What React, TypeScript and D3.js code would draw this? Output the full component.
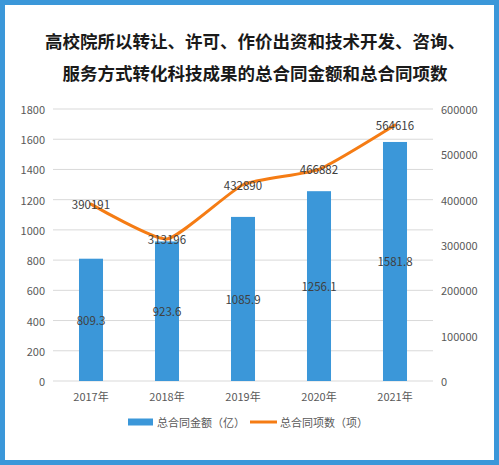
import React from "react";
import * as d3 from "d3";

const categories = ["2017年", "2018年", "2019年", "2020年", "2021年"];
const amountValues = [809.3, 923.6, 1085.9, 1256.1, 1581.8];
const countValues = [390191, 313196, 432890, 466882, 564616];
const leftTicks = [0, 200, 400, 600, 800, 1000, 1200, 1400, 1600, 1800];
const rightTicks = [0, 100000, 200000, 300000, 400000, 500000, 600000];
const titleLines = [
  "高校院所以转让、许可、作价出资和技术开发、咨询、",
  "服务方式转化科技成果的总合同金额和总合同项数",
];
const seriesNames = ["总合同金额（亿）", "总合同项数（项）"];

const W = 499;
const H = 465;
const BLUE = "#3b97d9";
const ORANGE = "#f57c14";
const TEXT = "#595959";
const LABEL = "#404040";
const FONT = "'Noto Sans CJK SC', 'Noto Sans', sans-serif";

export default function App() {
  const x0 = 53, x1 = 433, yTop = 109, yBot = 381;
  const x = d3.scaleBand<string>().domain(categories).range([x0, x1]).paddingInner(0.684).paddingOuter(0.342);
  const yL = d3.scaleLinear().domain([0, 1800]).range([yBot, yTop]);
  const yR = d3.scaleLinear().domain([0, 600000]).range([yBot, yTop]);
  const cx = (c: string) => (x(c) as number) + x.bandwidth() / 2;
  const line = d3
    .line<number>()
    .x((_, i) => cx(categories[i]))
    .y((d) => yR(d))
    .curve(d3.curveCardinal.tension(0.5));

  return (
    <svg width={W} height={H} style={{ position: "absolute", left: 0, top: 0, fontFamily: FONT }}>
      <rect x={0} y={0} width={W} height={H} fill={BLUE} />
      <rect x={5} y={5} width={489} height={455} fill="#ffffff" />
      {titleLines.map((t, i) => (
        <text key={i} x={255} y={40 + i * 32} textAnchor="middle" dominantBaseline="central" fontSize={17.5} fontWeight="bold" fill="#1a1a1a">
          {t}
        </text>
      ))}
      {leftTicks.map((t) => (
        <g key={"l" + t}>
          <line x1={x0} x2={x1} y1={yL(t)} y2={yL(t)} stroke="#d9d9d9" strokeWidth={1} />
          <text x={45} y={yL(t)} textAnchor="end" dominantBaseline="central" fontSize={11} fill={TEXT}>
            {t}
          </text>
        </g>
      ))}
      {rightTicks.map((t) => (
        <text key={"r" + t} x={441} y={yR(t)} textAnchor="start" dominantBaseline="central" fontSize={11} fill={TEXT}>
          {t}
        </text>
      ))}
      {categories.map((c, i) => (
        <g key={c}>
          <rect x={x(c)} y={yL(amountValues[i])} width={x.bandwidth()} height={yBot - yL(amountValues[i])} fill={BLUE} />
          <text x={cx(c)} y={396} textAnchor="middle" dominantBaseline="central" fontSize={11} fill={TEXT}>
            {c}
          </text>
        </g>
      ))}
      <path d={line(countValues) || ""} fill="none" stroke={ORANGE} strokeWidth={3} strokeLinecap="round" />
      {categories.map((c, i) => (
        <text key={"bl" + c} x={cx(c)} y={(yL(amountValues[i]) + yBot) / 2} textAnchor="middle" dominantBaseline="central" fontSize={11.5} fill={LABEL}>
          {amountValues[i].toFixed(1)}
        </text>
      ))}
      {categories.map((c, i) => (
        <text key={"ll" + c} x={cx(c)} y={yR(countValues[i])} textAnchor="middle" dominantBaseline="central" fontSize={11.5} fill={LABEL}>
          {countValues[i]}
        </text>
      ))}
      <rect x={128} y={418.5} width={25} height={7} fill={BLUE} />
      <text x={157} y={422} dominantBaseline="central" fontSize={11} fill={TEXT}>
        {seriesNames[0]}
      </text>
      <line x1={250} x2={277} y1={422} y2={422} stroke={ORANGE} strokeWidth={3} />
      <text x={280} y={422} dominantBaseline="central" fontSize={11} fill={TEXT}>
        {seriesNames[1]}
      </text>
    </svg>
  );
}
